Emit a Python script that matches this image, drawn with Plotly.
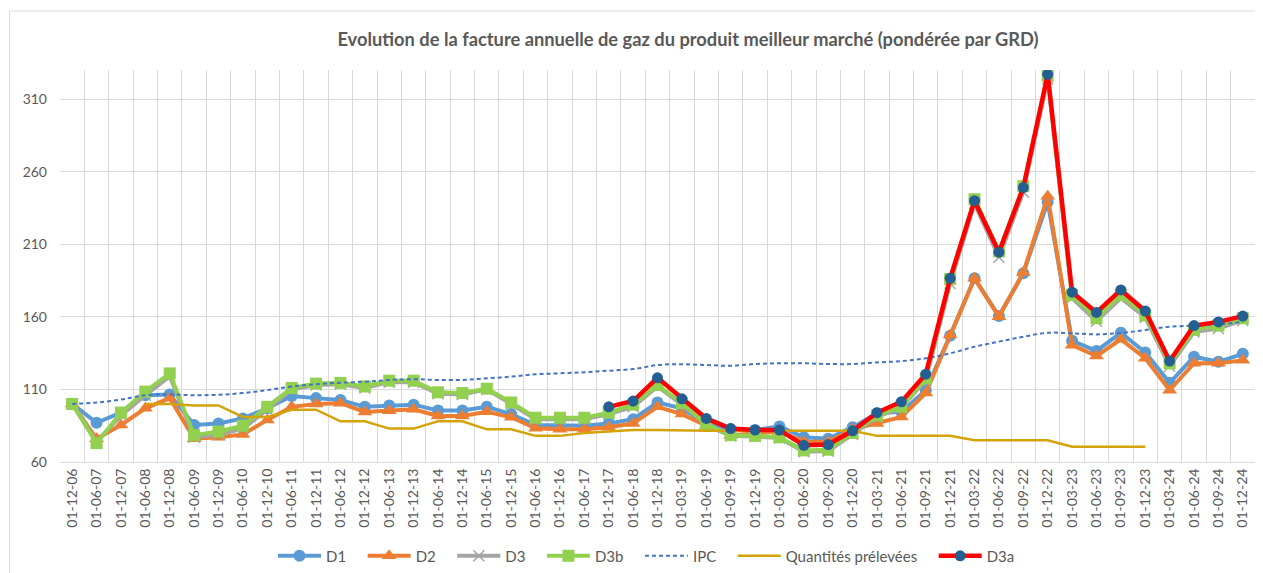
import plotly.graph_objects as go

dates = ['01-12-06', '01-06-07', '01-12-07', '01-06-08', '01-12-08', '01-06-09', '01-12-09',
         '01-06-10', '01-12-10', '01-06-11', '01-12-11', '01-06-12', '01-12-12', '01-06-13',
         '01-12-13', '01-06-14', '01-12-14', '01-06-15', '01-12-15', '01-06-16', '01-12-16',
         '01-06-17', '01-12-17', '01-06-18', '01-12-18', '01-03-19', '01-06-19', '01-09-19',
         '01-12-19', '01-03-20', '01-06-20', '01-09-20', '01-12-20', '01-03-21', '01-06-21',
         '01-09-21', '01-12-21', '01-03-22', '01-06-22', '01-09-22', '01-12-22', '01-03-23',
         '01-06-23', '01-09-23', '01-12-23', '01-03-24', '01-06-24', '01-09-24', '01-12-24']

d1 = [100, 87, 94, 106, 106.5, 85.5, 86.5, 90, 97, 105.5, 104, 102.7, 98, 99, 99.5, 95.5, 95.5,
      98, 93, 85.5, 85, 85, 86.5, 89.5, 101, 97, 86.5, 82.5, 82, 84.5, 77, 76, 84, 93.5, 94.5,
      109.5, 147, 186.5, 160.5, 190, 239, 143.5, 136.5, 149, 135.5, 114.5, 132.5, 129, 134.5]

d2 = [100, 76, 85.5, 97, 104, 76, 77, 79, 89, 98, 100, 100.5, 94.5, 95.3, 96.3, 91.7, 91.7,
      94.6, 90.8, 83.2, 82.5, 82.5, 84, 86.6, 98, 93, 85, 78.5, 79.5, 81, 74, 74, 82.5, 86.5, 91,
      107.5, 147.5, 186.5, 160, 190.5, 243, 140.5, 133, 144.5, 131.5, 109.5, 128, 128, 130]

d3 = [100, 74, 92, 106, 119, 77, 79, 83, 96, 110, 113, 113.5, 111, 115, 115, 107, 106.5, 110,
      100, 89.5, 89.5, 89.5, 93, 98, 112, 99.5, 85.5, 78, 77.5, 76.5, 67, 67.5, 79, 91, 97.5,
      116.5, 183, 238, 201, 246, 324, 173, 157, 173, 159.5, 126, 149.5, 152, 157.5]

d3b = [100, 73, 94, 108.5, 121, 78.5, 81, 85, 98, 111, 114, 114.5, 112, 116, 116, 108, 107.5,
       110.5, 101, 90.5, 90.5, 90.5, 94, 99.5, 113, 100.5, 86, 78.5, 78, 77, 68, 68.5, 80, 92, 98,
       117.5, 186, 241, 205, 250, 326, 175, 159, 175, 161, 128, 151, 154, 159]

ipc = [100, 101, 103, 106, 106.5, 106, 106.3, 107.5, 109.5, 112, 113.5, 114.6, 115.3, 116.5,
       117, 116.5, 116.5, 117.6, 118.8, 120.4, 121.1, 121.8, 122.9, 124, 126.8, 127.3, 126.8,
       126.3, 127.5, 128, 128, 127.5, 127.5, 128.6, 129.5, 131.4, 134.8, 139.4, 142.9, 146.3,
       149, 148.6, 147.9, 148.9, 150.9, 153.2, 153.9, 154.8, 156.6]

quantites = [None, None, None, 100, 100, 99, 99, 91, 91, 96, 96, 88, 88, 83, 83, 88, 88, 82.5,
             82.5, 78, 78, 80, 81, 82, 82, 81.5, 81.5, 81.5, 81.5, 81.5, 81.5, 81.5, 81.5, 78, 78,
             78, 78, 75, 75, 75, 75, 70.5, 70.5, 70.5, 70.5, None, None, None, None]

d3a = [None] * 22 + [98, 102, 118, 103.5, 90, 83, 82, 82, 71.5, 72, 81.5, 94, 101.5, 120.5,
                     186.5, 240, 204.5, 249, 327, 177, 163, 178.5, 164, 129.5, 154, 156.5, 160.5]

FONT = 'Lato'
GREY_TXT = '#595959'
PAD = '&nbsp;' * 3  # extra room after each legend entry

# the page adds an 8px body margin, so the figure is drawn 8px smaller
W, H = 1255, 565


def entry(name):
    return name + PAD


fig = go.Figure()

fig.add_trace(go.Scatter(x=dates, y=d1, name=entry('D1'), mode='lines+markers',
                         line=dict(color='#5B9BD5', width=4),
                         marker=dict(symbol='circle', size=12, color='#5B9BD5')))
fig.add_trace(go.Scatter(x=dates, y=d2, name=entry('D2'), mode='lines+markers',
                         line=dict(color='#ED7D31', width=4),
                         marker=dict(symbol='triangle-up', size=13, color='#ED7D31')))
fig.add_trace(go.Scatter(x=dates, y=d3, name=entry('D3'), mode='lines+markers',
                         line=dict(color='#A5A5A5', width=4),
                         marker=dict(symbol='x-thin', size=11, color='#A5A5A5',
                                     line=dict(width=1.5, color='#A5A5A5'))))
fig.add_trace(go.Scatter(x=dates, y=d3b, name=entry('D3b'), mode='lines+markers',
                         line=dict(color='#92D050', width=4),
                         marker=dict(symbol='square', size=12, color='#92D050')))
fig.add_trace(go.Scatter(x=dates, y=ipc, name=entry('IPC'), mode='lines',
                         line=dict(color='#4472C4', width=2, dash='4px,3px', shape='spline')))
fig.add_trace(go.Scatter(x=dates, y=quantites, name=entry('Quantités prélevées'), mode='lines',
                         line=dict(color='#D4A30A', width=2.5)))
fig.add_trace(go.Scatter(x=dates, y=d3a, name='D3a', mode='lines+markers',
                         line=dict(color='#FF0000', width=4.5),
                         marker=dict(symbol='circle', size=11, color='#255E91')))

# outer chart border (left / top edges visible)
fig.add_shape(type='rect', xref='paper', yref='paper',
              x0=-0.0423, x1=1.2, y0=-0.5, y1=1.1505,
              line=dict(color='#D9D9D9', width=1), fillcolor='rgba(0,0,0,0)', layer='below')

fig.update_layout(
    width=W, height=H,
    margin=dict(l=52, r=8, t=62, b=111, autoexpand=False),
    paper_bgcolor='white', plot_bgcolor='white',
    font=dict(family=FONT, color=GREY_TXT, size=14),
    title=dict(text='<b>Evolution de la facture annuelle de gaz du produit meilleur marché (pondérée par GRD)</b>',
               x=680 / W, xanchor='center', y=1 - 32 / H, yanchor='middle',
               font=dict(family=FONT, size=18.3, color=GREY_TXT)),
    showlegend=True,
    legend=dict(orientation='h', x=0.4908, xanchor='center', y=-0.24, yanchor='middle',
                font=dict(family=FONT, size=15, color=GREY_TXT), itemwidth=43,
                traceorder='normal'),
    xaxis=dict(type='category', range=[-0.5, len(dates) - 0.5], tickson='boundaries',
               showgrid=True, gridcolor='#D9D9D9', gridwidth=1, tickangle=-90, ticks='',
               showline=True, linecolor='#D9D9D9',
               tickfont=dict(family=FONT, size=14, color=GREY_TXT), zeroline=False,
               automargin=False),
    yaxis=dict(range=[60, 330], tick0=60, dtick=50, showgrid=True, gridcolor='#D9D9D9',
               gridwidth=1, zeroline=False, showline=False, ticks='', ticklabelstandoff=12,
               tickfont=dict(family=FONT, size=14, color=GREY_TXT), automargin=False),
)

fig.write_html("out.html")
